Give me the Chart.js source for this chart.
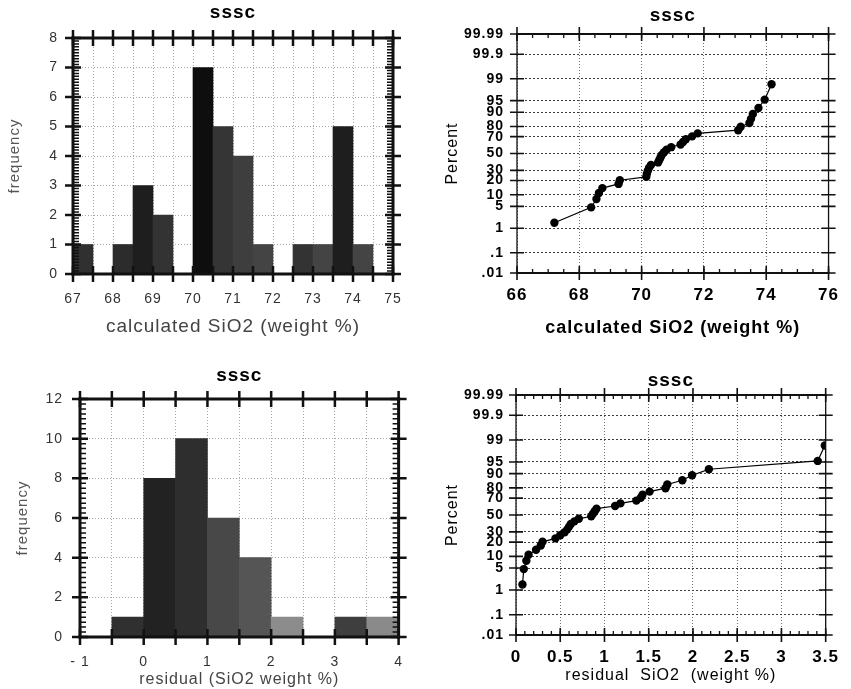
<!DOCTYPE html>
<html>
<head>
<meta charset="utf-8">
<script src="https://cdn.jsdelivr.net/npm/chart.js@4.4.1/dist/chart.umd.min.js"></script>
<style>
  html, body { margin: 0; padding: 0; background: #fff; }
  #wrap { position: relative; width: 851px; height: 689px; overflow: hidden; background: #fff; }
  canvas { position: absolute; }
</style>
</head>
<body>
<div id="wrap">
  <canvas id="c1" width="420" height="345" style="left:0px;top:0px"></canvas>
  <canvas id="c2" width="426" height="345" style="left:425px;top:0px"></canvas>
  <canvas id="c3" width="420" height="344" style="left:0px;top:345px"></canvas>
  <canvas id="c4" width="426" height="344" style="left:425px;top:345px"></canvas>
</div>
<script>
// ---------------- data ----------------
const sio2Bins = [67.25, 67.75, 68.25, 68.75, 69.25, 69.75, 70.25, 70.75, 71.25, 71.75, 72.25, 72.75, 73.25, 73.75, 74.25];
const sio2Freq = [1, 0, 1, 3, 2, 0, 7, 5, 4, 1, 0, 1, 1, 5, 1];

const residBins = [-0.25, 0.25, 0.75, 1.25, 1.75, 2.25, 2.75, 3.25, 3.75];
const residFreq = [1, 8, 10, 6, 4, 1, 0, 1, 1];

const sio2Sorted = [67.20, 68.38, 68.55, 68.63, 68.74, 69.26, 69.30, 70.15, 70.17, 70.20, 70.24, 70.30,
                    70.53, 70.57, 70.61, 70.65, 70.72, 70.80, 70.95, 71.25, 71.33, 71.42, 71.62, 71.80,
                    73.10, 73.18, 73.46, 73.51, 73.57, 73.75, 73.95, 74.17];
const residSorted = [0.073, 0.088, 0.117, 0.142, 0.227, 0.28, 0.30, 0.446, 0.50, 0.55, 0.58, 0.60,
                     0.62, 0.66, 0.71, 0.85, 0.87, 0.89, 0.91, 1.12, 1.18, 1.36, 1.41, 1.43,
                     1.51, 1.69, 1.71, 1.88, 1.99, 2.18, 3.41, 3.49];
const plotPercent = [1.5625, 4.6875, 7.8125, 10.9375, 14.0625, 17.1875, 20.3125, 23.4375,
                     26.5625, 29.6875, 32.8125, 35.9375, 39.0625, 42.1875, 45.3125, 48.4375,
                     51.5625, 54.6875, 57.8125, 60.9375, 64.0625, 67.1875, 70.3125, 73.4375,
                     76.5625, 79.6875, 82.8125, 85.9375, 89.0625, 92.1875, 95.3125, 98.4375];

const probTickPercent = [0.01, 0.1, 1, 5, 10, 20, 30, 50, 70, 80, 90, 95, 99, 99.9, 99.99];
const probTickLabels  = ['.01', '.1', '1', '5', '10', '20', '30', '50', '70', '80', '90', '95', '99', '99.9', '99.99'];

const titleText = 'sssc';

// ---------------- helpers ----------------
function probit(p) {
  const a = [-3.969683028665376e+01, 2.209460984245205e+02, -2.759285104469687e+02, 1.383577518672690e+02, -3.066479806614716e+01, 2.506628277459239e+00];
  const b = [-5.447609879822406e+01, 1.615858368580409e+02, -1.556989798598866e+02, 6.680131188771972e+01, -1.328068155288572e+01];
  const c = [-7.784894002430293e-03, -3.223964580411365e-01, -2.400758277161838e+00, -2.549732539343734e+00, 4.374664141464968e+00, 2.938163982698783e+00];
  const d = [7.784695709041462e-03, 3.224671290700398e-01, 2.445134137142996e+00, 3.754408661907416e+00];
  const pl = 0.02425, ph = 1 - pl;
  let q, r;
  if (p < pl) {
    q = Math.sqrt(-2 * Math.log(p));
    return (((((c[0]*q+c[1])*q+c[2])*q+c[3])*q+c[4])*q+c[5]) / ((((d[0]*q+d[1])*q+d[2])*q+d[3])*q+1);
  }
  if (p > ph) {
    q = Math.sqrt(-2 * Math.log(1 - p));
    return -(((((c[0]*q+c[1])*q+c[2])*q+c[3])*q+c[4])*q+c[5]) / ((((d[0]*q+d[1])*q+d[2])*q+d[3])*q+1);
  }
  q = p - 0.5; r = q * q;
  return (((((a[0]*r+a[1])*r+a[2])*r+a[3])*r+a[4])*r+a[5])*q / (((((b[0]*r+b[1])*r+b[2])*r+b[3])*r+b[4])*r+1);
}

const FONT = "'Liberation Sans', Arial, Helvetica, sans-serif";

const spacingPlugin = {
  id: 'spacing',
  beforeUpdate(chart) { chart.ctx.letterSpacing = '1px'; },
  beforeDraw(chart) { chart.ctx.letterSpacing = '1px'; }
};

function makeFrame(o) {
  return {
    id: 'frameTicks',
    afterDraw(chart) {
      const ctx = chart.ctx, a = chart.chartArea;
      const xs = chart.scales.x, ys = chart.scales.y;
      ctx.save();
      ctx.setLineDash([]);
      ctx.strokeStyle = '#111';
      ctx.lineCap = 'square';
      // frame: top/bottom and sides may differ
      ctx.lineWidth = o.hWidth;
      ctx.beginPath();
      ctx.moveTo(a.left, a.top); ctx.lineTo(a.right, a.top);
      ctx.moveTo(a.left, a.bottom); ctx.lineTo(a.right, a.bottom);
      ctx.stroke();
      ctx.lineWidth = o.vWidth;
      ctx.beginPath();
      ctx.moveTo(a.left, a.top); ctx.lineTo(a.left, a.bottom);
      ctx.moveTo(a.right, a.top); ctx.lineTo(a.right, a.bottom);
      ctx.stroke();
      ctx.lineCap = 'butt';
      // major crosses
      ctx.lineWidth = o.tickWidth;
      ctx.beginPath();
      xs.ticks.forEach(t => {
        const px = xs.getPixelForValue(t.value);
        ctx.moveTo(px, a.top - o.majorOut); ctx.lineTo(px, a.top + o.majorIn);
        ctx.moveTo(px, a.bottom - o.majorIn); ctx.lineTo(px, a.bottom + o.majorOut);
      });
      ys.ticks.forEach(t => {
        const py = ys.getPixelForValue(t.value);
        ctx.moveTo(a.left - o.majorOut, py); ctx.lineTo(a.left + o.majorIn, py);
        ctx.moveTo(a.right - o.majorIn, py); ctx.lineTo(a.right + o.majorOut, py);
      });
      ctx.stroke();
      // minor inward ticks
      ctx.lineWidth = o.minorWidth;
      ctx.beginPath();
      if (o.xMinor) {
        const n = Math.round((xs.max - xs.min) / o.xMinor);
        for (let i = 0; i <= n; i++) {
          const px = xs.getPixelForValue(xs.min + i * o.xMinor);
          ctx.moveTo(px, a.top); ctx.lineTo(px, a.top + o.minorLen);
          ctx.moveTo(px, a.bottom); ctx.lineTo(px, a.bottom - o.minorLen);
        }
      }
      if (o.yMinor) {
        const n = Math.round((ys.max - ys.min) / o.yMinor);
        for (let i = 0; i <= n; i++) {
          const py = ys.getPixelForValue(ys.min + i * o.yMinor);
          ctx.moveTo(a.left, py); ctx.lineTo(a.left + o.minorLen, py);
          ctx.moveTo(a.right, py); ctx.lineTo(a.right - o.minorLen, py);
        }
      }
      ctx.stroke();
      ctx.restore();
    }
  };
}

function topTitleAxis(min, max, height, pad) {
  return {
    type: 'linear', position: 'top', min: min, max: max,
    grid: { display: false, drawTicks: false },
    border: { display: false },
    ticks: { display: false },
    title: { display: true, text: titleText, color: '#000',
             font: { family: FONT, size: 19, weight: 'bold' }, padding: { top: pad, bottom: 0 } },
    afterFit: s => { s.height = height; }
  };
}

function histChart(id, bins, freq, colors, cfg) {
  return new Chart(document.getElementById(id), {
    type: 'bar',
    data: {
      datasets: [{
        data: bins.map((b, i) => ({ x: b, y: freq[i] })),
        backgroundColor: colors,
        borderWidth: 0,
        barPercentage: 1.0,
        categoryPercentage: 1.0
      }]
    },
    options: {
      responsive: false, animation: false, devicePixelRatio: 1,
      layout: { padding: { left: 0, right: cfg.padRight, top: 0, bottom: 0 } },
      plugins: { legend: { display: false }, tooltip: { enabled: false } },
      scales: {
        x: {
          type: 'linear', min: cfg.xMin, max: cfg.xMax, offset: false,
          grid: { color: '#a8a8a8', lineWidth: 1, drawTicks: false, offset: false },
          border: { display: false, dash: [1, 2] },
          ticks: { stepSize: 0.5, autoSkip: false, maxRotation: 0, padding: cfg.xTickPad, color: '#333',
                   font: { family: FONT, size: 14 }, callback: cfg.xLabel },
          title: { display: true, text: cfg.xTitle, color: '#444',
                   font: { family: FONT, size: cfg.xTitleSize }, padding: { top: 0, bottom: cfg.xTitlePad } },
          afterFit: s => { s.height = cfg.xHeight; }
        },
        xt: topTitleAxis(cfg.xMin, cfg.xMax, cfg.topHeight, cfg.titlePad),
        y: {
          type: 'linear', min: 0, max: cfg.yMax,
          grid: { color: '#a8a8a8', lineWidth: 1, drawTicks: false },
          border: { display: false, dash: [1, 2] },
          ticks: { stepSize: cfg.yStep, autoSkip: false, padding: cfg.yTickPad, color: '#333',
                   font: { family: FONT, size: 14 } },
          title: { display: true, text: 'frequency', color: '#555',
                   font: { family: FONT, size: 15 }, padding: { top: cfg.yTitlePad, bottom: 0 } },
          afterFit: s => { s.width = cfg.yWidth; }
        }
      }
    },
    plugins: [spacingPlugin, makeFrame(cfg.frame)]
  });
}

function probChart(id, xs, cfg) {
  const zMin = probit(probTickPercent[0] / 100);
  const zMax = probit(probTickPercent[probTickPercent.length - 1] / 100);
  return new Chart(document.getElementById(id), {
    type: 'line',
    data: {
      datasets: [{
        data: xs.map((v, i) => ({ x: v, y: probit(plotPercent[i] / 100) })),
        borderColor: '#000', borderWidth: 1.2,
        pointRadius: 4.2, pointBackgroundColor: '#000', pointBorderWidth: 0,
        fill: false, tension: 0
      }]
    },
    options: {
      responsive: false, animation: false, devicePixelRatio: 1,
      layout: { padding: { left: 0, right: cfg.padRight, top: 0, bottom: 0 } },
      plugins: { legend: { display: false }, tooltip: { enabled: false } },
      scales: {
        x: {
          type: 'linear', min: cfg.xMin, max: cfg.xMax,
          grid: { color: '#707070', lineWidth: 1, drawTicks: false },
          border: { display: false, dash: [1, 2] },
          ticks: { stepSize: cfg.xStep, autoSkip: false, maxRotation: 0, padding: cfg.xTickPad, color: '#000',
                   font: { family: FONT, size: 17, weight: 'bold' }, callback: v => String(v) },
          title: { display: true, text: cfg.xTitle, color: '#000',
                   font: { family: FONT, size: cfg.xTitleSize, weight: cfg.xTitleWeight },
                   padding: { top: 0, bottom: cfg.xTitlePad } },
          afterFit: s => { s.height = cfg.xHeight; }
        },
        xt: topTitleAxis(cfg.xMin, cfg.xMax, cfg.topHeight, cfg.titlePad),
        y: {
          type: 'linear', min: zMin, max: zMax,
          afterBuildTicks: s => { s.ticks = probTickPercent.map(p => ({ value: probit(p / 100) })); },
          grid: { color: '#3a3a3a', lineWidth: 1, drawTicks: false },
          border: { display: false, dash: [2, 2] },
          ticks: { autoSkip: false, padding: cfg.yTickPad, color: '#000',
                   font: { family: FONT, size: 14, weight: 'bold' },
                   callback: (v, i) => probTickLabels[i] },
          title: { display: true, text: 'Percent', color: '#000',
                   font: { family: FONT, size: 16 }, padding: { top: cfg.yTitlePad, bottom: 0 } },
          afterFit: s => { s.width = cfg.yWidth; }
        }
      }
    },
    plugins: [spacingPlugin, makeFrame(cfg.frame)]
  });
}

// ---------------- charts ----------------
histChart('c1', sio2Bins, sio2Freq,
  ['#303030', '#303030', '#2c2c2c', '#1e1e1e', '#333333', '#303030', '#0e0e0e', '#353535',
   '#3e3e3e', '#444444', '#303030', '#333333', '#444444', '#1e1e1e', '#444444'],
  { xMin: 67, xMax: 75, yMax: 8, yStep: 1, padRight: 27,
    xHeight: 71, topHeight: 38, yWidth: 73, titlePad: 1,
    xTickPad: 17, xTitle: 'calculated SiO2 (weight %)', xTitleSize: 19, xTitlePad: 7,
    yTickPad: 15, yTitlePad: 6,
    xLabel: v => Number.isInteger(v) ? String(v) : '',
    frame: { hWidth: 3, vWidth: 3, tickWidth: 2.5, majorOut: 8, majorIn: 8,
             yMinor: 0.1, minorLen: 6, minorWidth: 1.5 } });

probChart('c2', sio2Sorted,
  { xMin: 66, xMax: 76, xStep: 2, padRight: 15,
    xHeight: 72, topHeight: 34, yWidth: 92, titlePad: 4,
    xTickPad: 12, xTitle: 'calculated SiO2 (weight %)', xTitleSize: 18, xTitleWeight: 'bold', xTitlePad: 6,
    yTickPad: 13, yTitlePad: 18,
    frame: { hWidth: 2, vWidth: 1.3, tickWidth: 1.6, majorOut: 7, majorIn: 7,
             xMinor: 0.5, minorLen: 4, minorWidth: 1.3 } });

histChart('c3', residBins, residFreq,
  ['#303030', '#222222', '#2e2e2e', '#484848', '#555555', '#8c8c8c', '#303030', '#3e3e3e', '#8a8a8a'],
  { xMin: -1, xMax: 4, yMax: 12, yStep: 2, padRight: 20,
    xHeight: 52, topHeight: 54, yWidth: 80, titlePad: 19,
    xTickPad: 17, xTitle: 'residual (SiO2 weight %)', xTitleSize: 16, xTitlePad: 0,
    yTickPad: 17, yTitlePad: 14,
    xLabel: v => v === -1 ? '- 1' : (Number.isInteger(v) ? String(v) : ''),
    frame: { hWidth: 3, vWidth: 3, tickWidth: 2.5, majorOut: 8, majorIn: 8,
             yMinor: 0.25, minorLen: 6, minorWidth: 1.5 } });

probChart('c4', residSorted,
  { xMin: 0, xMax: 3.5, xStep: 0.5, padRight: 16,
    xHeight: 54, topHeight: 50, yWidth: 91, titlePad: 24,
    xTickPad: 12, xTitle: 'residual  SiO2  (weight %)', xTitleSize: 16, xTitleWeight: 'normal', xTitlePad: 4,
    yTickPad: 12, yTitlePad: 18,
    frame: { hWidth: 2, vWidth: 1.3, tickWidth: 1.6, majorOut: 7, majorIn: 7,
             xMinor: 0.1, minorLen: 4, minorWidth: 1.3 } });
</script>
</body>
</html>
